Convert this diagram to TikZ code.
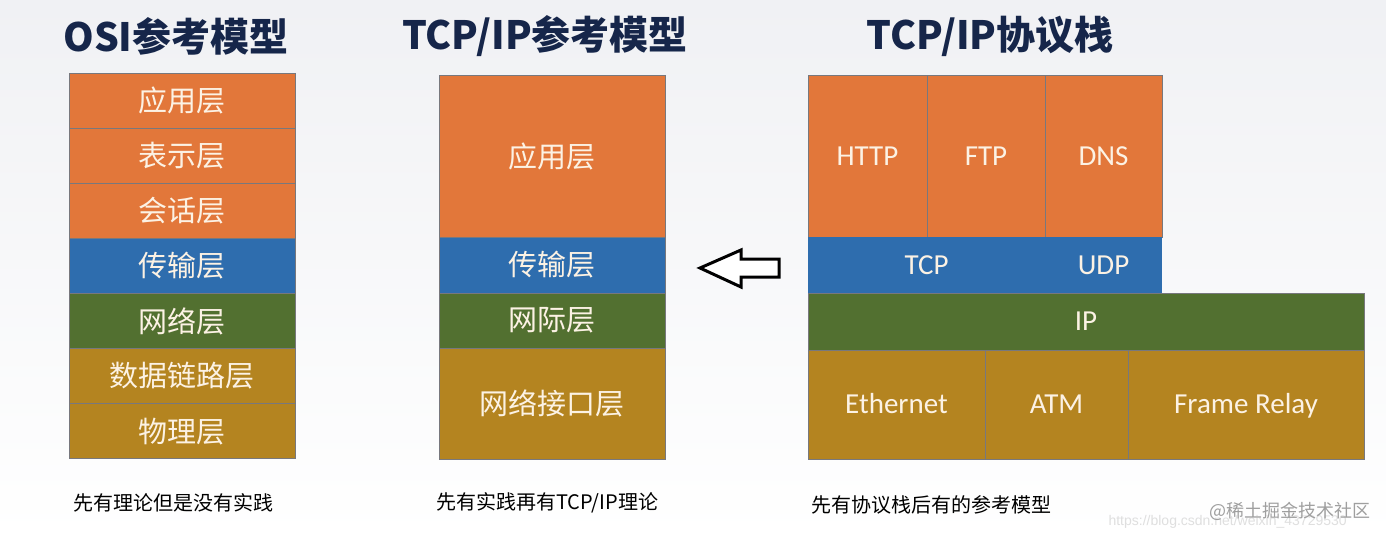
\documentclass[tikz,border=0pt]{standalone}
\usepackage{fontspec}
\setmainfont{Carlito}
\newfontfamily\cjk{Noto Sans CJK SC}
\newfontfamily\wmfont{Liberation Sans}
\usepackage{tikz}
\definecolor{appc}{RGB}{226,119,58}
\definecolor{tranc}{RGB}{46,109,174}
\definecolor{netc}{RGB}{82,112,48}
\definecolor{linkc}{RGB}{180,132,32}
\definecolor{titlec}{RGB}{22,38,74}
\definecolor{labelc}{RGB}{252,242,228}
\definecolor{edgec}{RGB}{120,120,125}
\definecolor{bgtop}{RGB}{240,241,244}
\tikzset{
	layer/.style={
			draw=edgec, line width=0.8pt, anchor=north west,
			inner sep=0pt, outer sep=0pt, text=labelc,
			text height=18.5pt, text depth=0pt,
			font=\fontsize{29}{31}\selectfont
		},
	cjklayer/.style={layer, text height=, text depth=, font=\cjk\fontsize{29}{31}\selectfont},
	title/.style={text=titlec, font=\cjk\bfseries\fontsize{39}{42}\selectfont},
	caption/.style={anchor=west, font=\cjk\fontsize{20}{22}\selectfont}
}

\begin{document}
\begin{tikzpicture}[x=1pt, y=-1pt]
	\useasboundingbox (0,0) rectangle (1386,538);
	\fill[top color=bgtop, bottom color=white] (0,0) rectangle (1386,538);

	% titles
	\node[title] (osititle) at (176,36) {OSI参考模型};
	\node[title] (tcptitle) at (545,36) {TCP/IP参考模型};
	\node[title] (stacktitle) at (990,36) {TCP/IP协议栈};

	% OSI model
	\foreach \name/\txt/\col [count=\i from 0] in {app/应用层/appc, pres/表示层/appc, sess/会话层/appc, tran/传输层/tranc, net/网络层/netc, link/数据链路层/linkc, phys/物理层/linkc}
		\node[cjklayer, fill=\col, minimum width=226pt, minimum height=55.1pt] (osi\name) at (69,73+55.1*\i) {\txt};

	% TCP/IP model
	\node[cjklayer, fill=appc, minimum width=226pt, minimum height=162pt] (tcpapp) at (439,75) {应用层};
	\node[cjklayer, fill=tranc, minimum width=226pt, minimum height=56pt] (tcptran) at (439,237) {传输层};
	\node[cjklayer, fill=netc, minimum width=226pt, minimum height=55pt] (tcpnet) at (439,293) {网际层};
	\node[cjklayer, fill=linkc, minimum width=226pt, minimum height=111pt] (tcplink) at (439,348) {网络接口层};

	% arrow
	\draw[line width=3pt, fill=white] (700,268) -- (741,250) -- (741,259) -- (779,259)
		-- (779,277) -- (741,277) -- (741,287) -- cycle;

	% protocol stack
	\node[layer, fill=appc, minimum width=119pt, minimum height=162pt] (http) at (808,75) {HTTP};
	\node[layer, fill=appc, minimum width=118pt, minimum height=162pt] (ftp) at (927,75) {FTP};
	\node[layer, fill=appc, minimum width=117pt, minimum height=162pt] (dns) at (1045,75) {DNS};
	\node[layer, draw=none, fill=tranc, minimum width=237pt, minimum height=56pt] (tcp) at (808,237) {TCP};
	\node[layer, draw=none, fill=tranc, minimum width=117pt, minimum height=56pt] (udp) at (1045,237) {UDP};
	\node[layer, fill=netc, minimum width=556pt, minimum height=57pt] (ip) at (808,293) {IP};
	\node[layer, fill=linkc, minimum width=177pt, minimum height=109pt] (ethernet) at (808,350) {Ethernet};
	\node[layer, fill=linkc, minimum width=143pt, minimum height=109pt] (atm) at (985,350) {ATM};
	\node[layer, fill=linkc, minimum width=236pt, minimum height=109pt] (framerelay) at (1128,350) {Frame Relay};

	% notes
	\node[caption] (osinote) at (70,503) {先有理论但是没有实践};
	\node[caption] (tcpnote) at (433,503) {先有实践再有TCP/IP理论};
	\node[caption] (stacknote) at (808,505) {先有协议栈后有的参考模型};

	% watermark
	\node[anchor=west, text=gray!25, font=\wmfont\fontsize{14}{16}\selectfont] (csdn) at (1105,522) {https://blog.csdn.net/weixin\_43729530};
	\node[anchor=west, text=gray!75, font=\cjk\fontsize{18}{20}\selectfont] (juejin) at (1206,511) {@稀土掘金技术社区};
\end{tikzpicture}
\end{document}
